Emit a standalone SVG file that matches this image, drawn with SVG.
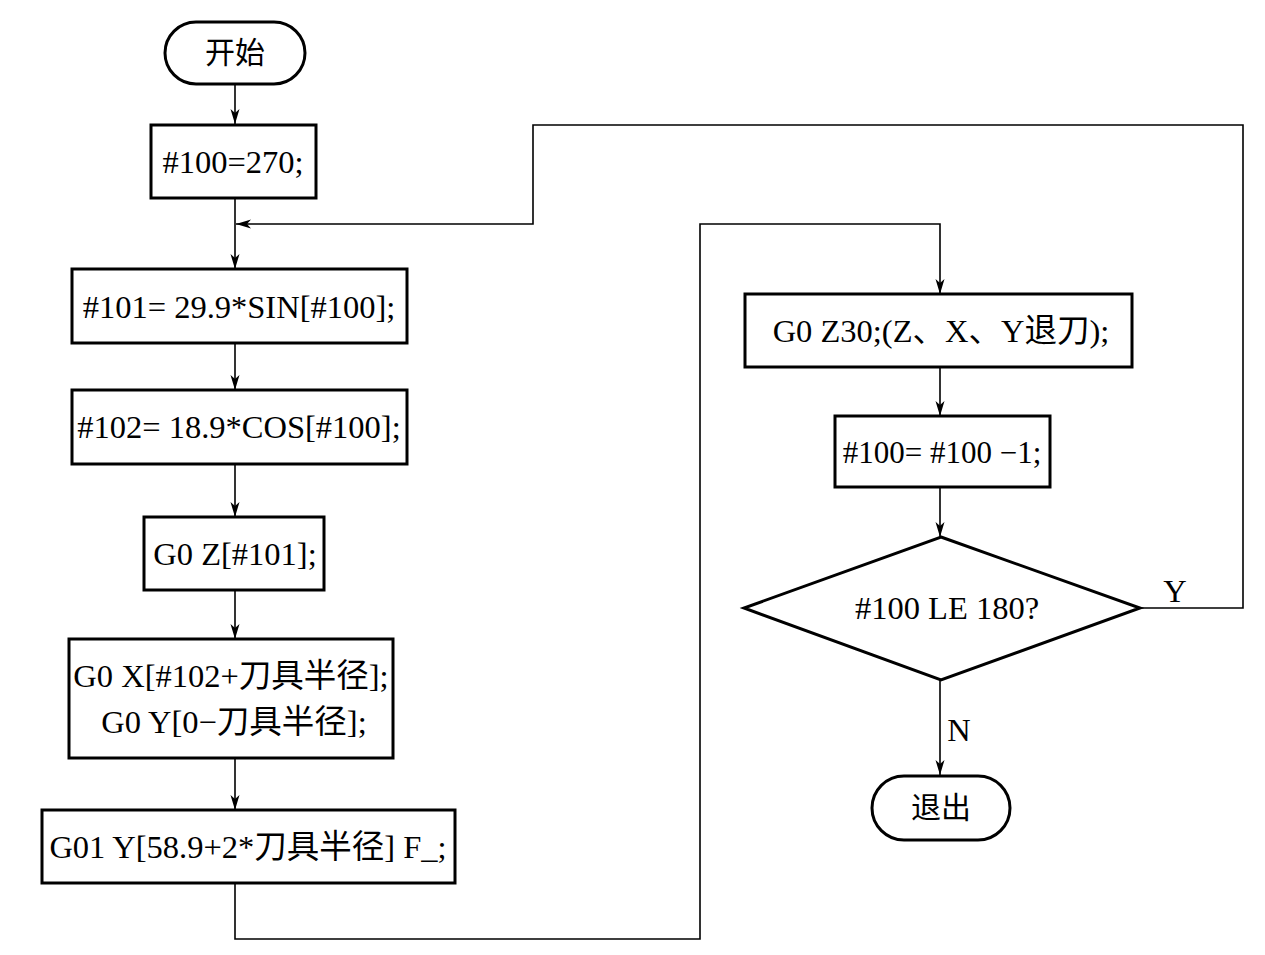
<svg xmlns="http://www.w3.org/2000/svg" width="1265" height="955" viewBox="0 0 1265 955">
<defs>
<style>
.box{fill:#fff;stroke:#000;stroke-width:3}
.ln{fill:none;stroke:#000;stroke-width:1.6}
.t{font-family:"Liberation Serif","Noto Sans CJK SC",serif;font-size:32.5px;fill:#000;text-anchor:middle}
.c{font-family:"Noto Sans CJK SC",sans-serif;font-size:30px;fill:#000;text-anchor:middle}
</style>
<marker id="ah" markerUnits="userSpaceOnUse" markerWidth="16" markerHeight="10" refX="15" refY="5" orient="auto">
<path d="M0,0.5 L15,5 L0,9.5 L4,5 z" fill="#000"/>
</marker>
</defs>
<rect width="1265" height="955" fill="#fff"/>
<g id="connectors">
<line class="ln" x1="235" y1="84" x2="235" y2="124" marker-end="url(#ah)"/>
<line class="ln" x1="235" y1="198" x2="235" y2="269" marker-end="url(#ah)"/>
<path class="ln" d="M1140,608 H1243 V125 H533 V224 H236" marker-end="url(#ah)"/>
<line class="ln" x1="235" y1="343" x2="235" y2="390" marker-end="url(#ah)"/>
<line class="ln" x1="235" y1="464" x2="235" y2="517" marker-end="url(#ah)"/>
<line class="ln" x1="235" y1="590" x2="235" y2="639" marker-end="url(#ah)"/>
<line class="ln" x1="235" y1="758" x2="235" y2="810" marker-end="url(#ah)"/>
<path class="ln" d="M235,883 V939 H700 V224 H940 V294" marker-end="url(#ah)"/>
<line class="ln" x1="940" y1="367" x2="940" y2="416" marker-end="url(#ah)"/>
<line class="ln" x1="940" y1="487" x2="940" y2="537" marker-end="url(#ah)"/>
<line class="ln" x1="940" y1="680" x2="940" y2="775" marker-end="url(#ah)"/>
<text class="t" x="1175" y="602">Y</text>
<text class="t" x="959" y="741">N</text>
</g>
<g id="start">
<rect class="box" x="165" y="22" width="140" height="62" rx="31"/>
<text class="c" x="235" y="63">开始</text>
</g>
<g id="n1">
<rect class="box" x="151" y="125" width="165" height="73"/>
<text class="t" x="233" y="173">#100=270;</text>
</g>
<g id="n2">
<rect class="box" x="72" y="269" width="335" height="74"/>
<text class="t" x="239" y="318">#101= 29.9*SIN[#100];</text>
</g>
<g id="n3">
<rect class="box" x="72" y="390" width="335" height="74"/>
<text class="t" x="239" y="438">#102= 18.9*COS[#100];</text>
</g>
<g id="n4">
<rect class="box" x="144" y="517" width="180" height="73"/>
<text class="t" x="235" y="565">G0 Z[#101];</text>
</g>
<g id="n5">
<rect class="box" x="69" y="639" width="324" height="119"/>
<text class="t" x="231" y="687">G0 X[#102+刀具半径];</text>
<text class="t" x="234" y="733">G0 Y[0−刀具半径];</text>
</g>
<g id="n6">
<rect class="box" x="42" y="810" width="413" height="73"/>
<text class="t" x="248" y="858">G01 Y[58.9+2*刀具半径] F_;</text>
</g>
<g id="n7">
<rect class="box" x="745" y="294" width="387" height="73"/>
<text class="t" x="941" y="342">G0 Z30;(Z、X、Y退刀);</text>
</g>
<g id="n8">
<rect class="box" x="835" y="416" width="215" height="71"/>
<text class="t" x="942" y="463" style="font-size:31px">#100= #100 −1;</text>
</g>
<g id="n9">
<polygon class="box" points="941,537 1140,608 941,680 744,608"/>
<text class="t" x="947" y="619">#100 LE 180?</text>
</g>
<g id="end">
<rect class="box" x="872" y="776" width="138" height="64" rx="32"/>
<text class="c" x="941" y="818">退出</text>
</g>
</svg>
